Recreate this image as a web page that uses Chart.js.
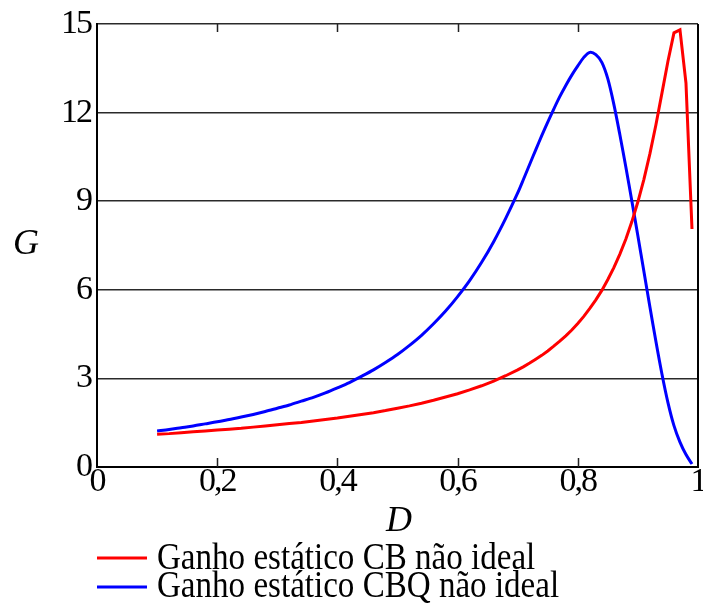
<!DOCTYPE html>
<html>
<head>
<meta charset="utf-8">
<script src="https://cdn.jsdelivr.net/npm/chart.js@4"></script>
<style>
  html, body { margin: 0; padding: 0; background: #ffffff; }
  #wrap { width: 703px; height: 604px; position: relative; }
</style>
</head>
<body>
<div id="wrap"><canvas id="c" width="703" height="604"></canvas></div>
<script>
// ---- data ----
const dutyCycle = [
  0.10, 0.12, 0.14, 0.16, 0.18, 0.20, 0.22, 0.24, 0.26, 0.28,
  0.30, 0.32, 0.34, 0.36, 0.38, 0.40, 0.42, 0.44, 0.46, 0.48,
  0.50, 0.52, 0.54, 0.56, 0.58, 0.60, 0.62, 0.64, 0.66, 0.68,
  0.70, 0.71, 0.72, 0.73, 0.74, 0.75, 0.76, 0.77, 0.78, 0.79,
  0.80, 0.81, 0.82, 0.83, 0.84, 0.85, 0.86, 0.87, 0.88, 0.89,
  0.90, 0.91, 0.92, 0.93, 0.94, 0.95, 0.96, 0.97, 0.98, 0.99
];
const gainCB = [
  1.11, 1.13, 1.16, 1.19, 1.22, 1.25, 1.28, 1.31, 1.35, 1.39,
  1.43, 1.47, 1.51, 1.56, 1.61, 1.66, 1.72, 1.78, 1.84, 1.91,
  1.99, 2.07, 2.16, 2.26, 2.37, 2.48, 2.61, 2.75, 2.91, 3.09,
  3.29, 3.40, 3.52, 3.65, 3.78, 3.93, 4.09, 4.26, 4.44, 4.64,
  4.86, 5.10, 5.37, 5.66, 5.98, 6.35, 6.75, 7.21, 7.72, 8.31,
  8.98, 9.74, 10.61, 11.59, 12.66, 13.74, 14.70, 14.80, 13.00, 8.06
];
const gainCBQ = [
  1.22, 1.27, 1.33, 1.39, 1.46, 1.53, 1.61, 1.69, 1.78, 1.88,
  1.99, 2.10, 2.23, 2.36, 2.51, 2.68, 2.86, 3.07, 3.29, 3.54,
  3.81, 4.12, 4.46, 4.85, 5.28, 5.77, 6.31, 6.93, 7.63, 8.42,
  9.28, 9.76, 10.25, 10.74, 11.22, 11.68, 12.12, 12.54, 12.92, 13.27,
  13.58, 13.87, 14.04, 13.96, 13.70, 13.14, 12.28, 11.25, 10.15, 9.00,
  7.82, 6.62, 5.42, 4.25, 3.15, 2.18, 1.40, 0.84, 0.42, 0.10
];
const xTickLabels = ['0', '0,2', '0,4', '0,6', '0,8', '1'];
const yTickValues = [0, 3, 6, 9, 12, 15];
const seriesNames = ['Ganho estático CB não ideal', 'Ganho estático CBQ não ideal'];
const seriesColors = ['#ff0000', '#0000ff'];
const axisNames = { x: 'D', y: 'G' };

const FONT = '"Liberation Serif", "Times New Roman", serif';

const decor = {
  id: 'decor',
  beforeDraw(chart) {
    chart.ctx.letterSpacing = '-2px';
  },
  afterDraw(chart) {
    const { ctx, chartArea: a, scales: { x } } = chart;
    ctx.save();
    ctx.letterSpacing = '0px';
    // right frame line
    ctx.strokeStyle = '#000';
    ctx.lineWidth = 2;
    ctx.beginPath();
    ctx.moveTo(a.right, a.top);
    ctx.lineTo(a.right, a.bottom);
    ctx.stroke();
    // inner tick marks on bottom and top
    ctx.lineWidth = 1.5;
    ctx.strokeStyle = '#222';
    x.ticks.forEach(t => {
      if (t.value <= 0.001 || t.value >= 0.999) return;
      const px = Math.round(x.getPixelForValue(t.value)) + 0.5;
      ctx.beginPath();
      ctx.moveTo(px, a.bottom);
      ctx.lineTo(px, a.bottom - 9);
      ctx.moveTo(px, a.top);
      ctx.lineTo(px, a.top + 8);
      ctx.stroke();
    });
    // axis names
    ctx.fillStyle = '#000';
    ctx.font = 'italic 36px ' + FONT;
    ctx.textBaseline = 'alphabetic';
    ctx.textAlign = 'center';
    ctx.fillText(axisNames.x, 399, 531);
    ctx.textAlign = 'left';
    ctx.fillText(axisNames.y, 13, 254);
    // legend
    const rows = [{ line: 558, base: 569 }, { line: 587, base: 597 }];
    seriesNames.forEach((name, i) => {
      ctx.strokeStyle = seriesColors[i];
      ctx.lineWidth = 3;
      ctx.beginPath();
      ctx.moveTo(97, rows[i].line);
      ctx.lineTo(147, rows[i].line);
      ctx.stroke();
      ctx.save();
      ctx.translate(157, rows[i].base);
      ctx.scale(0.87, 1);
      ctx.font = '38px ' + FONT;
      ctx.fillStyle = '#000';
      ctx.textAlign = 'left';
      ctx.fillText(name, 0, 0);
      ctx.restore();
    });
    ctx.restore();
  }
};

new Chart(document.getElementById('c'), {
  type: 'line',
  data: {
    datasets: [
      {
        label: seriesNames[0],
        data: dutyCycle.map((d, i) => ({ x: d, y: gainCB[i] })),
        borderColor: seriesColors[0],
        borderWidth: 3,
        pointRadius: 0,
        tension: 0,
        fill: false
      },
      {
        label: seriesNames[1],
        data: dutyCycle.map((d, i) => ({ x: d, y: gainCBQ[i] })),
        borderColor: seriesColors[1],
        borderWidth: 3,
        pointRadius: 0,
        tension: 0.3,
        fill: false
      }
    ]
  },
  options: {
    responsive: false,
    animation: false,
    devicePixelRatio: 1,
    layout: { padding: { top: 24, right: 5, left: 0, bottom: 0 } },
    plugins: { legend: { display: false }, tooltip: { enabled: false } },
    scales: {
      x: {
        type: 'linear',
        min: 0,
        max: 1,
        ticks: {
          stepSize: 0.2,
          autoSkip: false,
          maxRotation: 0,
          padding: -5,
          color: '#000',
          font: { family: FONT, size: 34 },
          callback: (v, i) => xTickLabels[i]
        },
        grid: { display: false, drawTicks: false },
        border: { display: true, color: '#000', width: 2 },
        afterFit: s => { s.height = 137; s.paddingLeft = 0; s.paddingRight = 0; }
      },
      y: {
        min: 0,
        max: 15,
        afterBuildTicks: s => { s.ticks = yTickValues.map(v => ({ value: v })); },
        ticks: {
          padding: 6,
          color: '#000',
          font: { family: FONT, size: 34 },
          callback: v => String(v)
        },
        grid: { color: '#2a2a2a', lineWidth: 1.6, drawTicks: false },
        border: { display: true, color: '#000', width: 2 },
        afterFit: s => { s.width = 97; s.paddingTop = 0; s.paddingBottom = 0; }
      }
    }
  },
  plugins: [decor]
});
</script>
</body>
</html>
